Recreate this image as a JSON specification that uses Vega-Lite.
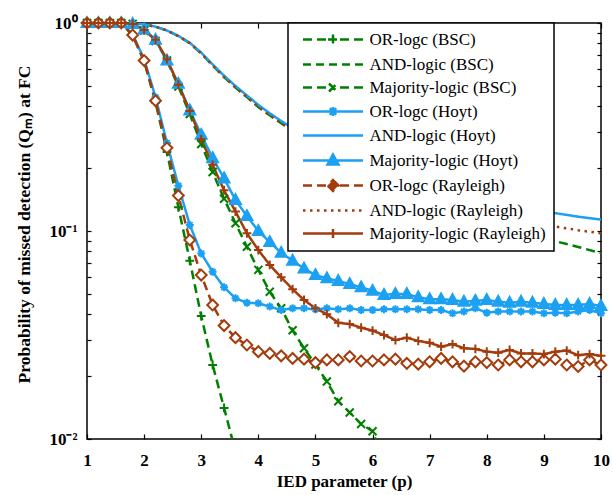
{
  "$schema": "https://vega.github.io/schema/vega-lite/v6.json",
  "width": 514,
  "height": 416,
  "autosize": {"type": "none"},
  "padding": {"left": 87, "top": 23, "right": 12, "bottom": 56},
  "background": "white",
  "config": {
    "view": {"stroke": "black", "strokeWidth": 1.5},
    "font": "Liberation Serif",
    "legend": {"labelFont": "Liberation Serif"},
    "axis": {"domain": false, "grid": false, "tickColor": "black", "tickWidth": 1.2, "labelColor": "black", "titleColor": "black"}
  },
  "data": {"values": [
    {"x": 1.0, "OR-logc (BSC)": 1, "AND-logic (BSC)": 1, "Majority-logic (BSC)": 1, "OR-logc (Hoyt)": 1, "AND-logic (Hoyt)": 1, "Majority-logic (Hoyt)": 1, "OR-logc (Rayleigh)": 1, "AND-logic (Rayleigh)": 1, "Majority-logic (Rayleigh)": 1},
    {"x": 1.2, "OR-logc (BSC)": 1, "AND-logic (BSC)": 1, "Majority-logic (BSC)": 1, "OR-logc (Hoyt)": 1, "AND-logic (Hoyt)": 1, "Majority-logic (Hoyt)": 1, "OR-logc (Rayleigh)": 1, "AND-logic (Rayleigh)": 1, "Majority-logic (Rayleigh)": 1},
    {"x": 1.4, "OR-logc (BSC)": 1, "AND-logic (BSC)": 1, "Majority-logic (BSC)": 1, "OR-logc (Hoyt)": 1, "AND-logic (Hoyt)": 1, "Majority-logic (Hoyt)": 1, "OR-logc (Rayleigh)": 1, "AND-logic (Rayleigh)": 1, "Majority-logic (Rayleigh)": 1},
    {"x": 1.6, "OR-logc (BSC)": 1, "AND-logic (BSC)": 1, "Majority-logic (BSC)": 1, "OR-logc (Hoyt)": 1, "AND-logic (Hoyt)": 1, "Majority-logic (Hoyt)": 1, "OR-logc (Rayleigh)": 1, "AND-logic (Rayleigh)": 1, "Majority-logic (Rayleigh)": 1},
    {"x": 1.8, "OR-logc (BSC)": 0.87, "AND-logic (BSC)": 0.997, "Majority-logic (BSC)": 0.99, "OR-logc (Hoyt)": 0.88, "AND-logic (Hoyt)": 0.997, "Majority-logic (Hoyt)": 0.99, "OR-logc (Rayleigh)": 0.875, "AND-logic (Rayleigh)": 0.997, "Majority-logic (Rayleigh)": 0.99},
    {"x": 2.0, "OR-logc (BSC)": 0.655, "AND-logic (BSC)": 0.985, "Majority-logic (BSC)": 0.92, "OR-logc (Hoyt)": 0.67, "AND-logic (Hoyt)": 0.985, "Majority-logic (Hoyt)": 0.93, "OR-logc (Rayleigh)": 0.66, "AND-logic (Rayleigh)": 0.985, "Majority-logic (Rayleigh)": 0.925},
    {"x": 2.2, "OR-logc (BSC)": 0.415, "AND-logic (BSC)": 0.96, "Majority-logic (BSC)": 0.82, "OR-logc (Hoyt)": 0.44, "AND-logic (Hoyt)": 0.96, "Majority-logic (Hoyt)": 0.83, "OR-logc (Rayleigh)": 0.423, "AND-logic (Rayleigh)": 0.96, "Majority-logic (Rayleigh)": 0.83},
    {"x": 2.4, "OR-logc (BSC)": 0.24, "AND-logic (BSC)": 0.92, "Majority-logic (BSC)": 0.66, "OR-logc (Hoyt)": 0.265, "AND-logic (Hoyt)": 0.92, "Majority-logic (Hoyt)": 0.66, "OR-logc (Rayleigh)": 0.251, "AND-logic (Rayleigh)": 0.92, "Majority-logic (Rayleigh)": 0.67},
    {"x": 2.6, "OR-logc (BSC)": 0.13, "AND-logic (BSC)": 0.865, "Majority-logic (BSC)": 0.495, "OR-logc (Hoyt)": 0.165, "AND-logic (Hoyt)": 0.867, "Majority-logic (Hoyt)": 0.51, "OR-logc (Rayleigh)": 0.148, "AND-logic (Rayleigh)": 0.865, "Majority-logic (Rayleigh)": 0.505},
    {"x": 2.8, "OR-logc (BSC)": 0.072, "AND-logic (BSC)": 0.8, "Majority-logic (BSC)": 0.365, "OR-logc (Hoyt)": 0.107, "AND-logic (Hoyt)": 0.803, "Majority-logic (Hoyt)": 0.38, "OR-logc (Rayleigh)": 0.0905, "AND-logic (Rayleigh)": 0.8, "Majority-logic (Rayleigh)": 0.378},
    {"x": 3.0, "OR-logc (BSC)": 0.039, "AND-logic (BSC)": 0.715, "Majority-logic (BSC)": 0.262, "OR-logc (Hoyt)": 0.078, "AND-logic (Hoyt)": 0.72, "Majority-logic (Hoyt)": 0.29, "OR-logc (Rayleigh)": 0.0614, "AND-logic (Rayleigh)": 0.715, "Majority-logic (Rayleigh)": 0.276},
    {"x": 3.2, "OR-logc (BSC)": 0.0227, "AND-logic (BSC)": 0.625, "Majority-logic (BSC)": 0.192, "OR-logc (Hoyt)": 0.0637, "AND-logic (Hoyt)": 0.632, "Majority-logic (Hoyt)": 0.224, "OR-logc (Rayleigh)": 0.0441, "AND-logic (Rayleigh)": 0.625, "Majority-logic (Rayleigh)": 0.208},
    {"x": 3.4, "OR-logc (BSC)": 0.0141, "AND-logic (BSC)": 0.55, "Majority-logic (BSC)": 0.143, "OR-logc (Hoyt)": 0.0536, "AND-logic (Hoyt)": 0.558, "Majority-logic (Hoyt)": 0.179, "OR-logc (Rayleigh)": 0.0351, "AND-logic (Rayleigh)": 0.55, "Majority-logic (Rayleigh)": 0.157},
    {"x": 3.6, "OR-logc (BSC)": 0.0087, "AND-logic (BSC)": 0.49, "Majority-logic (BSC)": 0.109, "OR-logc (Hoyt)": 0.0475, "AND-logic (Hoyt)": 0.498, "Majority-logic (Hoyt)": 0.141, "OR-logc (Rayleigh)": 0.0307, "AND-logic (Rayleigh)": 0.49, "Majority-logic (Rayleigh)": 0.124},
    {"x": 3.8, "AND-logic (BSC)": 0.44, "Majority-logic (BSC)": 0.084, "OR-logc (Hoyt)": 0.0452, "AND-logic (Hoyt)": 0.448, "Majority-logic (Hoyt)": 0.118, "OR-logc (Rayleigh)": 0.0283, "AND-logic (Rayleigh)": 0.44, "Majority-logic (Rayleigh)": 0.0975},
    {"x": 4.0, "AND-logic (BSC)": 0.395, "Majority-logic (BSC)": 0.065, "OR-logc (Hoyt)": 0.0449, "AND-logic (Hoyt)": 0.404, "Majority-logic (Hoyt)": 0.1, "OR-logc (Rayleigh)": 0.0263, "AND-logic (Rayleigh)": 0.395, "Majority-logic (Rayleigh)": 0.081},
    {"x": 4.2, "AND-logic (BSC)": 0.36, "Majority-logic (BSC)": 0.051, "OR-logc (Hoyt)": 0.0433, "AND-logic (Hoyt)": 0.368, "Majority-logic (Hoyt)": 0.0885, "OR-logc (Rayleigh)": 0.0258, "AND-logic (Rayleigh)": 0.36, "Majority-logic (Rayleigh)": 0.0687},
    {"x": 4.4, "AND-logic (BSC)": 0.33, "Majority-logic (BSC)": 0.0425, "OR-logc (Hoyt)": 0.0417, "AND-logic (Hoyt)": 0.338, "Majority-logic (Hoyt)": 0.0785, "OR-logc (Rayleigh)": 0.0251, "AND-logic (Rayleigh)": 0.33, "Majority-logic (Rayleigh)": 0.0599},
    {"x": 4.6, "AND-logic (BSC)": 0.303, "Majority-logic (BSC)": 0.0333, "OR-logc (Hoyt)": 0.0425, "AND-logic (Hoyt)": 0.312, "Majority-logic (Hoyt)": 0.072, "OR-logc (Rayleigh)": 0.0244, "AND-logic (Rayleigh)": 0.303, "Majority-logic (Rayleigh)": 0.0525},
    {"x": 4.8, "Majority-logic (BSC)": 0.0273, "OR-logc (Hoyt)": 0.0425, "Majority-logic (Hoyt)": 0.066, "OR-logc (Rayleigh)": 0.0242, "Majority-logic (Rayleigh)": 0.0466},
    {"x": 5.0, "AND-logic (BSC)": 0.263, "Majority-logic (BSC)": 0.0228, "OR-logc (Hoyt)": 0.042, "AND-logic (Hoyt)": 0.269, "Majority-logic (Hoyt)": 0.0614, "OR-logc (Rayleigh)": 0.0233, "AND-logic (Rayleigh)": 0.265, "Majority-logic (Rayleigh)": 0.0425},
    {"x": 5.2, "Majority-logic (BSC)": 0.0189, "OR-logc (Hoyt)": 0.0425, "Majority-logic (Hoyt)": 0.0592, "OR-logc (Rayleigh)": 0.024, "Majority-logic (Rayleigh)": 0.0398},
    {"x": 5.4, "Majority-logic (BSC)": 0.0152, "OR-logc (Hoyt)": 0.042, "Majority-logic (Hoyt)": 0.0575, "OR-logc (Rayleigh)": 0.024, "Majority-logic (Rayleigh)": 0.0362},
    {"x": 5.6, "AND-logic (BSC)": 0.2143, "Majority-logic (BSC)": 0.0134, "OR-logc (Hoyt)": 0.0425, "AND-logic (Hoyt)": 0.223, "Majority-logic (Hoyt)": 0.0556, "OR-logc (Rayleigh)": 0.0249, "AND-logic (Rayleigh)": 0.2173, "Majority-logic (Rayleigh)": 0.0357},
    {"x": 5.8, "Majority-logic (BSC)": 0.0118, "OR-logc (Hoyt)": 0.0417, "Majority-logic (Hoyt)": 0.0536, "OR-logc (Rayleigh)": 0.0237, "Majority-logic (Rayleigh)": 0.0343},
    {"x": 6.0, "AND-logic (BSC)": 0.1884, "Majority-logic (BSC)": 0.0109, "OR-logc (Hoyt)": 0.0417, "AND-logic (Hoyt)": 0.1995, "Majority-logic (Hoyt)": 0.0516, "OR-logc (Rayleigh)": 0.0237, "AND-logic (Rayleigh)": 0.1928, "Majority-logic (Rayleigh)": 0.0332},
    {"x": 6.2, "Majority-logic (BSC)": 0.0078, "OR-logc (Hoyt)": 0.042, "Majority-logic (Hoyt)": 0.0493, "OR-logc (Rayleigh)": 0.024, "Majority-logic (Rayleigh)": 0.0316},
    {"x": 6.4, "OR-logc (Hoyt)": 0.042, "Majority-logic (Hoyt)": 0.0498, "OR-logc (Rayleigh)": 0.0242, "Majority-logic (Rayleigh)": 0.0299},
    {"x": 6.6, "AND-logic (BSC)": 0.16, "OR-logc (Hoyt)": 0.042, "AND-logic (Hoyt)": 0.1746, "Majority-logic (Hoyt)": 0.0498, "OR-logc (Rayleigh)": 0.0231, "AND-logic (Rayleigh)": 0.166, "Majority-logic (Rayleigh)": 0.0307},
    {"x": 6.8, "OR-logc (Hoyt)": 0.042, "Majority-logic (Hoyt)": 0.048, "OR-logc (Rayleigh)": 0.0229, "Majority-logic (Rayleigh)": 0.0296},
    {"x": 7.0, "AND-logic (BSC)": 0.1445, "OR-logc (Hoyt)": 0.0417, "AND-logic (Hoyt)": 0.162, "Majority-logic (Hoyt)": 0.047, "OR-logc (Rayleigh)": 0.0235, "AND-logic (Rayleigh)": 0.1514, "Majority-logic (Rayleigh)": 0.029},
    {"x": 7.2, "OR-logc (Hoyt)": 0.0417, "Majority-logic (Hoyt)": 0.047, "OR-logc (Rayleigh)": 0.0244, "Majority-logic (Rayleigh)": 0.0278},
    {"x": 7.4, "OR-logc (Hoyt)": 0.0402, "Majority-logic (Hoyt)": 0.0466, "OR-logc (Rayleigh)": 0.0235, "Majority-logic (Rayleigh)": 0.0286},
    {"x": 7.6, "AND-logic (BSC)": 0.1259, "OR-logc (Hoyt)": 0.041, "AND-logic (Hoyt)": 0.1476, "Majority-logic (Hoyt)": 0.0457, "OR-logc (Rayleigh)": 0.0224, "AND-logic (Rayleigh)": 0.1358, "Majority-logic (Rayleigh)": 0.0273},
    {"x": 7.8, "OR-logc (Hoyt)": 0.0425, "Majority-logic (Hoyt)": 0.0462, "OR-logc (Rayleigh)": 0.0235, "Majority-logic (Rayleigh)": 0.0271},
    {"x": 8.0, "AND-logic (BSC)": 0.1148, "OR-logc (Hoyt)": 0.0405, "AND-logic (Hoyt)": 0.1396, "Majority-logic (Hoyt)": 0.0466, "OR-logc (Rayleigh)": 0.0233, "AND-logic (Rayleigh)": 0.1274, "Majority-logic (Rayleigh)": 0.0263},
    {"x": 8.2, "OR-logc (Hoyt)": 0.041, "Majority-logic (Hoyt)": 0.0457, "OR-logc (Rayleigh)": 0.0227, "Majority-logic (Rayleigh)": 0.026},
    {"x": 8.4, "OR-logc (Hoyt)": 0.041, "Majority-logic (Hoyt)": 0.0452, "OR-logc (Rayleigh)": 0.024, "Majority-logic (Rayleigh)": 0.0268},
    {"x": 8.6, "AND-logic (BSC)": 0.1002, "OR-logc (Hoyt)": 0.041, "AND-logic (Hoyt)": 0.1297, "Majority-logic (Hoyt)": 0.0457, "OR-logc (Rayleigh)": 0.0235, "AND-logic (Rayleigh)": 0.1159, "Majority-logic (Rayleigh)": 0.0258},
    {"x": 8.8, "OR-logc (Hoyt)": 0.041, "Majority-logic (Hoyt)": 0.0452, "OR-logc (Rayleigh)": 0.0235, "Majority-logic (Rayleigh)": 0.0258},
    {"x": 9.0, "AND-logic (BSC)": 0.0923, "OR-logc (Hoyt)": 0.0402, "AND-logic (Hoyt)": 0.1242, "Majority-logic (Hoyt)": 0.0446, "OR-logc (Rayleigh)": 0.024, "AND-logic (Rayleigh)": 0.1072, "Majority-logic (Rayleigh)": 0.0256},
    {"x": 9.2, "OR-logc (Hoyt)": 0.0405, "Majority-logic (Hoyt)": 0.0441, "OR-logc (Rayleigh)": 0.0242, "Majority-logic (Rayleigh)": 0.0263},
    {"x": 9.4, "OR-logc (Hoyt)": 0.0402, "Majority-logic (Hoyt)": 0.0441, "OR-logc (Rayleigh)": 0.0227, "Majority-logic (Rayleigh)": 0.0266},
    {"x": 9.6, "AND-logic (BSC)": 0.0838, "OR-logc (Hoyt)": 0.041, "AND-logic (Hoyt)": 0.1172, "Majority-logic (Hoyt)": 0.0441, "OR-logc (Rayleigh)": 0.0223, "AND-logic (Rayleigh)": 0.1009, "Majority-logic (Rayleigh)": 0.0253},
    {"x": 9.8, "OR-logc (Hoyt)": 0.0417, "Majority-logic (Hoyt)": 0.0446, "OR-logc (Rayleigh)": 0.024, "Majority-logic (Rayleigh)": 0.0256},
    {"x": 10.0, "AND-logic (BSC)": 0.0783, "OR-logc (Hoyt)": 0.0402, "AND-logic (Hoyt)": 0.1135, "Majority-logic (Hoyt)": 0.0436, "OR-logc (Rayleigh)": 0.0227, "AND-logic (Rayleigh)": 0.0975, "Majority-logic (Rayleigh)": 0.0251}
  ]},
  "transform": [
    {"fold": ["OR-logc (BSC)", "AND-logic (BSC)", "Majority-logic (BSC)", "OR-logc (Hoyt)", "AND-logic (Hoyt)", "Majority-logic (Hoyt)", "OR-logc (Rayleigh)", "AND-logic (Rayleigh)", "Majority-logic (Rayleigh)"], "as": ["s", "y"]},
    {"filter": "isValid(datum.y)"}
  ],
  "layer": [
    {
      "mark": {"type": "line", "strokeWidth": 2.5, "clip": true},
      "encoding": {
        "x": {"field": "x", "type": "quantitative", "scale": {"domain": [1, 10], "nice": false, "zero": false},
          "axis": {"orient": "bottom", "values": [1, 2, 3, 4, 5, 6, 7, 8, 9, 10], "format": "d", "tickSize": -5,
            "labelFont": "Liberation Serif", "labelFontSize": 17, "labelFontWeight": "bold", "labelPadding": 18,
            "labelFlush": false, "labelOverlap": false, "labelBound": false,
            "title": "IED parameter (p)", "titleFont": "Liberation Serif", "titleFontSize": 17, "titleFontWeight": "bold", "titlePadding": 5}},
        "y": {"field": "y", "type": "quantitative", "scale": {"type": "log", "domain": [0.01, 1], "nice": false},
          "axis": {"orient": "left", "values": [0.01, 0.02, 0.03, 0.04, 0.05, 0.06, 0.07, 0.08, 0.09, 0.1, 0.2, 0.3, 0.4, 0.5, 0.6, 0.7, 0.8, 0.9, 1],
            "labelExpr": "datum.value == 1 ? '10⁰' : datum.value == 0.1 ? '10⁻¹' : datum.value == 0.01 ? '10⁻²' : ''",
            "tickSize": -4,
            "labelFont": "Liberation Serif", "labelFontSize": 17, "labelFontWeight": "bold", "labelPadding": 14,
            "labelFlush": false, "labelOverlap": false, "labelBound": false,
            "title": "Probability of missed detection (Qₘ) at FC", "titleFont": "Liberation Serif", "titleFontSize": 17.5, "titleFontWeight": "bold", "titlePadding": 15, "titleY": 201}},
        "color": {"field": "s", "type": "nominal",
          "scale": {"domain": ["OR-logc (BSC)", "AND-logic (BSC)", "Majority-logic (BSC)", "OR-logc (Hoyt)", "AND-logic (Hoyt)", "Majority-logic (Hoyt)", "OR-logc (Rayleigh)", "AND-logic (Rayleigh)", "Majority-logic (Rayleigh)"],
            "range": ["#008000", "#008000", "#008000", "#1ca0f2", "#1ca0f2", "#1ca0f2", "#a33c0c", "#a33c0c", "#a33c0c"]},
          "legend": {"orient": "none", "legendX": 201, "legendY": 0, "title": null,
            "strokeColor": "black", "fillColor": "white", "padding": 8,
            "labelFont": "Liberation Serif", "labelFontSize": 17, "labelColor": "black", "labelLimit": 300,
            "symbolSize": 100, "symbolStrokeWidth": 2.5, "symbolOffset": 28.5, "labelOffset": 28, "rowPadding": 5,
            "encode": {
              "legend": {"update": {"strokeWidth": {"value": 1.5}}},
              "labels": {"update": {"font": {"value": "Liberation Serif"}, "fontSize": {"value": 17}, "fontWeight": {"value": "normal"}}},
              "symbols": {"update": {
                "shape": {"signal": "datum.value == 'OR-logc (BSC)' ? 'M-6,0L-4.2,0M-3.2,0L-1.4,0M1.4,0L3.2,0M4.2,0L6,0M-1,0L1,0M0,-1L0,1' : datum.value == 'AND-logic (BSC)' ? 'M-6,0L-4.4,0M-3.4,0L-1.8,0M-0.8,0L0.8,0M1.8,0L3.4,0M4.4,0L6,0' : datum.value == 'Majority-logic (BSC)' ? 'M-6,0L-4.2,0M-3.2,0L-1.4,0M1.4,0L3.2,0M4.2,0L6,0M-0.8,-0.8L0.8,0.8M-0.8,0.8L0.8,-0.8' : datum.value == 'OR-logc (Hoyt)' ? 'M-6,0L6,0M0,-0.9L0,0.9M-0.65,-0.65L0.65,0.65M-0.65,0.65L0.65,-0.65' : datum.value == 'AND-logic (Hoyt)' ? 'M-6,0L6,0' : datum.value == 'Majority-logic (Hoyt)' ? 'M-6,0L6,0M0,-1.2L1.1,0.8L-1.1,0.8Z' : datum.value == 'OR-logc (Rayleigh)' ? 'M-6,0L-4.2,0M-3.2,0L-1.4,0M1.4,0L3.2,0M4.2,0L6,0M0,-1.1L1.1,0L0,1.1L-1.1,0Z' : datum.value == 'AND-logic (Rayleigh)' ? 'M-6,0L-5.5,0M-4.6,0L-4.1,0M-3.2,0L-2.7,0M-1.8,0L-1.3,0M-0.4,0L0.1,0M1,0L1.5,0M2.4,0L2.9,0M3.8,0L4.3,0M5.2,0L5.7,0' : 'M-6,0L6,0M0,-0.9L0,0.9'"},
                "fill": {"scale": "color", "field": "value"},
                "fillOpacity": {"value": 1},
                "stroke": {"scale": "color", "field": "value"},
                "strokeDash": {"value": [1, 0]},
                "strokeWidth": {"value": 2.5},
                "opacity": {"value": 1}
              }}
            }}},
        "strokeDash": {"field": "s", "type": "nominal",
          "scale": {"domain": ["OR-logc (BSC)", "AND-logic (BSC)", "Majority-logic (BSC)", "OR-logc (Hoyt)", "AND-logic (Hoyt)", "Majority-logic (Hoyt)", "OR-logc (Rayleigh)", "AND-logic (Rayleigh)", "Majority-logic (Rayleigh)"],
            "range": [[9, 5], [9, 5], [9, 5], [1, 0], [1, 0], [1, 0], [9, 5], [2.5, 4.5], [1, 0]]},
          "legend": null}
      }
    },
    {
      "transform": [
        {"filter": {"field": "s", "oneOf": ["OR-logc (BSC)", "Majority-logic (BSC)", "OR-logc (Hoyt)", "Majority-logic (Hoyt)", "OR-logc (Rayleigh)", "Majority-logic (Rayleigh)"]}},
        {"filter": "datum.y >= 0.01"}
      ],
      "mark": {"type": "point", "size": 64, "strokeWidth": 2, "opacity": 1},
      "encoding": {
        "x": {"field": "x", "type": "quantitative",
          "axis": {"orient": "top", "values": [1, 2, 3, 4, 5, 6, 7, 8, 9, 10], "tickSize": -5, "labels": false, "title": null}},
        "y": {"field": "y", "type": "quantitative",
          "axis": {"orient": "right", "values": [0.01, 0.02, 0.03, 0.04, 0.05, 0.06, 0.07, 0.08, 0.09, 0.1, 0.2, 0.3, 0.4, 0.5, 0.6, 0.7, 0.8, 0.9, 1], "tickSize": -4, "labels": false, "title": null}},
        "shape": {"field": "s", "type": "nominal",
          "scale": {"domain": ["OR-logc (BSC)", "Majority-logic (BSC)", "OR-logc (Hoyt)", "Majority-logic (Hoyt)", "OR-logc (Rayleigh)", "Majority-logic (Rayleigh)"],
            "range": ["M-1.1,0L1.1,0M0,-1.1L0,1.1", "M-1,-1L1,1M-1,1L1,-1", "M-1,0L1,0M0,-1L0,1M-0.7,-0.7L0.7,0.7M-0.7,0.7L0.7,-0.7", "M0,-1.45L1.35,1L-1.35,1Z", "M0,-1.35L1.35,0L0,1.35L-1.35,0Z", "M-1.1,0L1.1,0M0,-1.1L0,1.1"]},
          "legend": null},
        "stroke": {"field": "s", "type": "nominal",
          "scale": {"domain": ["OR-logc (BSC)", "Majority-logic (BSC)", "OR-logc (Hoyt)", "Majority-logic (Hoyt)", "OR-logc (Rayleigh)", "Majority-logic (Rayleigh)"],
            "range": ["#008000", "#008000", "#1ca0f2", "#1ca0f2", "#a33c0c", "#a33c0c"]},
          "legend": null},
        "fill": {"field": "s", "type": "nominal",
          "scale": {"domain": ["OR-logc (BSC)", "Majority-logic (BSC)", "OR-logc (Hoyt)", "Majority-logic (Hoyt)", "OR-logc (Rayleigh)", "Majority-logic (Rayleigh)"],
            "range": ["transparent", "transparent", "transparent", "#1ca0f2", "white", "transparent"]},
          "legend": null}
      }
    }
  ],
  "resolve": {"axis": {"x": "independent", "y": "independent"}}
}
